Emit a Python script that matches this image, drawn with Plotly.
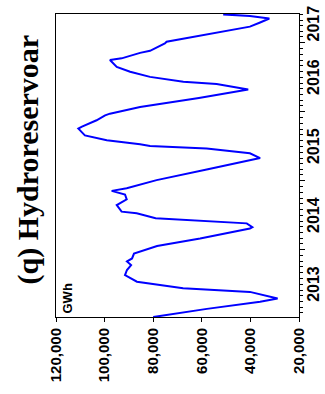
import plotly.graph_objects as go

# Weekly-ish readings of the Nordic hydro reservoir level (GWh)
dates = [
    "2013-01-09", "2013-02-21", "2013-03-31", "2013-04-17", "2013-05-22",
    "2013-06-10", "2013-06-27", "2013-07-15", "2013-08-19", "2013-09-15",
    "2013-10-11", "2013-10-30", "2013-11-15", "2013-12-11", "2014-01-20",
    "2014-03-01", "2014-04-23", "2014-04-30", "2014-05-20", "2014-06-16",
    "2014-07-12", "2014-07-21", "2014-08-25", "2014-09-24", "2014-10-20",
    "2014-11-08", "2014-11-22", "2015-01-04", "2015-03-03", "2015-05-01",
    "2015-05-26", "2015-06-21", "2015-07-04", "2015-07-13", "2015-08-03",
    "2015-08-29", "2015-10-04", "2015-10-14", "2015-11-17", "2015-12-13",
    "2015-12-22", "2016-01-26", "2016-03-14", "2016-04-28", "2016-05-27",
    "2016-06-08", "2016-07-04", "2016-07-31", "2016-08-26", "2016-10-01",
    "2016-10-10", "2016-11-08", "2016-11-19", "2016-12-28", "2017-01-06",
    "2017-03-27", "2017-04-18", "2017-05-09", "2017-05-23", "2017-05-31",
]
gwh = [
    80000, 57900, 36000, 28800, 40200,
    67700, 77200, 86700, 91600, 90800,
    89100, 90800, 88700, 87900, 78400,
    60700, 40200, 39200, 41500, 79000,
    86800, 93000, 95000, 90900, 91600,
    97100, 90900, 78600, 57500, 36000,
    40200, 58000, 81300, 85400, 99100,
    108100, 110800, 109300, 103300, 99800,
    97800, 85400, 61200, 40900, 53900,
    67600, 81300, 89500, 95000, 97800,
    93000, 85400, 81300, 75200, 74500,
    40200, 36000, 32200, 40200, 51200,
]

value_ticks = [20000, 40000, 60000, 80000, 100000, 120000]
value_tick_text = ["20,000", "40,000", "60,000", "80,000", "100,000", "120,000"]
year_starts = ["2014-01-01", "2015-01-01", "2016-01-01", "2017-01-01"]
year_labels = ["2013", "2014", "2015", "2016", "2017"]
year_label_dates = ["2013-07-01", "2014-07-01", "2015-07-01", "2016-07-01", "2017-04-10"]

sans = "Liberation Sans, Arial, sans-serif"
serif = "Liberation Serif, Times New Roman, serif"

fig = go.Figure(
    go.Scatter(
        x=gwh, y=dates, mode="lines",
        line=dict(color="#0000ff", width=2),
        hoverinfo="skip",
    )
)

fig.update_layout(
    width=325, height=394,
    margin=dict(l=56, r=26, t=14, b=77),
    paper_bgcolor="white", plot_bgcolor="white",
    showlegend=False,
    xaxis=dict(
        range=[120000, 20000],
        tickvals=value_ticks, ticktext=value_tick_text,
        tickangle=-90,
        tickfont=dict(family=sans, size=15, color="black", weight="bold"),
        ticks="outside", ticklen=4, tickcolor="black", tickwidth=1,
        showline=True, linecolor="black", linewidth=1, mirror=True,
        showgrid=False, zeroline=False,
    ),
    yaxis=dict(
        type="date", side="right",
        range=["2013-01-09", "2017-06-02"],
        tickvals=year_starts, ticktext=["", "", "", ""],
        ticks="outside", ticklen=5, tickcolor="black", tickwidth=1,
        minor=dict(dtick="M1", ticks="outside", ticklen=3, tickcolor="black"),
        showline=True, linecolor="black", linewidth=1, mirror=True,
        showgrid=False, zeroline=False,
    ),
)

annotations = []
for lab, d in zip(year_labels, year_label_dates):
    annotations.append(dict(
        x=1, xref="paper", xanchor="left", xshift=4,
        y=d, yref="y", yanchor="middle",
        text=lab, textangle=-90, showarrow=False,
        font=dict(family=sans, size=16, color="black", weight="bold"),
    ))

annotations.append(dict(
    x=0, xref="paper", xanchor="left", xshift=1,
    y=0, yref="paper", yanchor="bottom", yshift=1,
    text="GWh", textangle=-90, showarrow=False,
    font=dict(family=sans, size=13, color="black", weight="bold"),
))

annotations.append(dict(
    x=-0.115, xref="paper", xanchor="center",
    y=0.52, yref="paper", yanchor="middle",
    text="(q) Hydroreservoar", textangle=-90, showarrow=False,
    font=dict(family=serif, size=30, color="black", weight="bold"),
))

fig.update_layout(annotations=annotations)
fig.write_html("out.html")
